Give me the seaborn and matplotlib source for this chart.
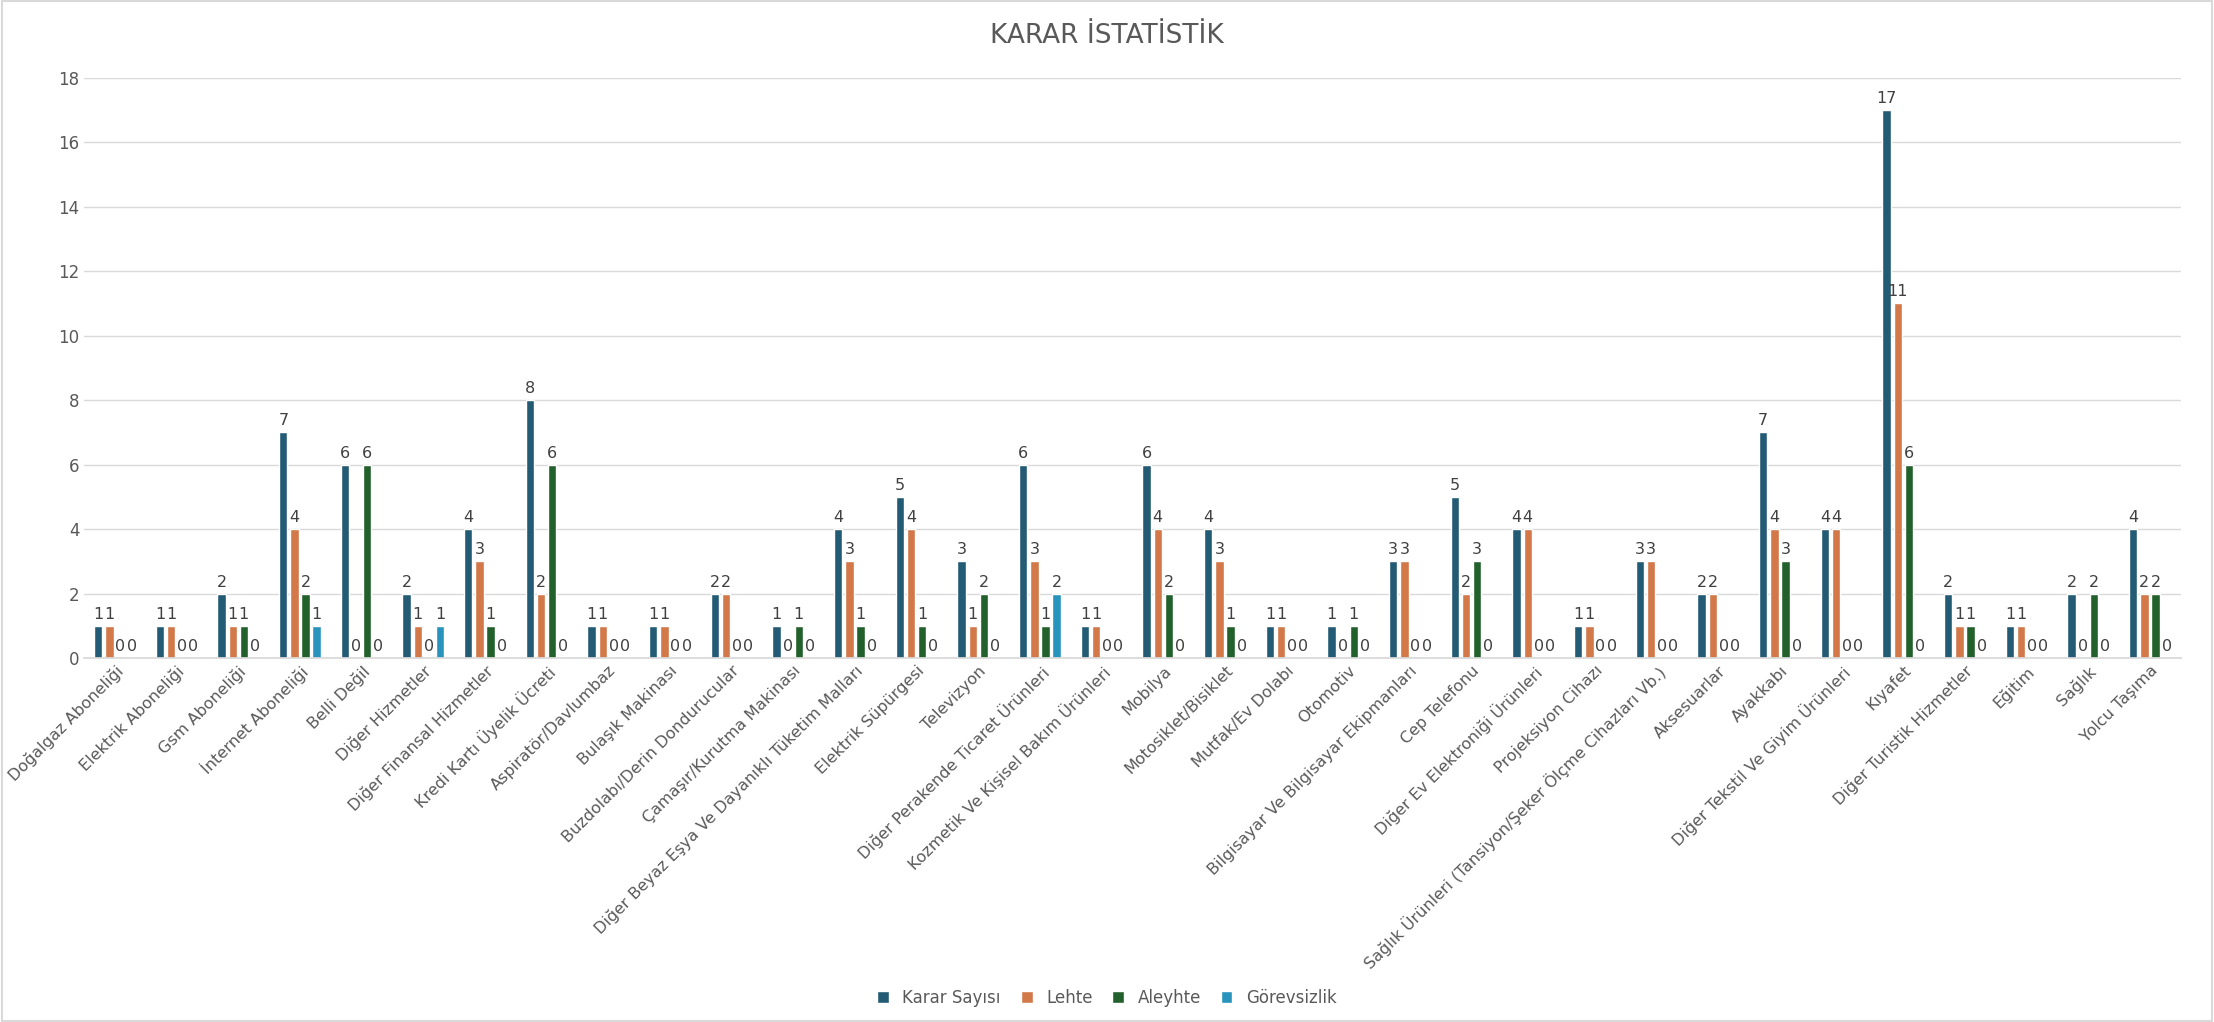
import matplotlib
matplotlib.use("Agg")
import matplotlib.pyplot as plt
import seaborn as sns
import pandas as pd

categories = [
    "Doğalgaz Aboneliği", "Elektrik Aboneliği", "Gsm Aboneliği", "İnternet Aboneliği",
    "Belli Değil", "Diğer Hizmetler", "Diğer Finansal Hizmetler", "Kredi Kartı Üyelik Ücreti",
    "Aspiratör/Davlumbaz", "Bulaşık Makinası", "Buzdolabı/Derin Dondurucular",
    "Çamaşır/Kurutma Makinası", "Diğer Beyaz Eşya Ve Dayanıklı Tüketim Malları",
    "Elektrik Süpürgesi", "Televizyon", "Diğer Perakende Ticaret Ürünleri",
    "Kozmetik Ve Kişisel Bakım Ürünleri", "Mobilya", "Motosiklet/Bisiklet",
    "Mutfak/Ev Dolabı", "Otomotiv", "Bilgisayar Ve Bilgisayar Ekipmanları",
    "Cep Telefonu", "Diğer Ev Elektroniği Ürünleri", "Projeksiyon Cihazı",
    "Sağlık Ürünleri (Tansiyon/Şeker Ölçme Cihazları Vb.)", "Aksesuarlar", "Ayakkabı",
    "Diğer Tekstil Ve Giyim Ürünleri", "Kıyafet", "Diğer Turistik Hizmetler",
    "Eğitim", "Sağlık", "Yolcu Taşıma",
]
karar = [1, 1, 2, 7, 6, 2, 4, 8, 1, 1, 2, 1, 4, 5, 3, 6, 1, 6, 4, 1, 1, 3, 5, 4, 1, 3, 2, 7, 4, 17, 2, 1, 2, 4]
lehte = [1, 1, 1, 4, 0, 1, 3, 2, 1, 1, 2, 0, 3, 4, 1, 3, 1, 4, 3, 1, 0, 3, 2, 4, 1, 3, 2, 4, 4, 11, 1, 1, 0, 2]
aleyhte = [0, 0, 1, 2, 6, 0, 1, 6, 0, 0, 0, 1, 1, 1, 2, 1, 0, 2, 1, 0, 1, 0, 3, 0, 0, 0, 0, 3, 0, 6, 1, 0, 2, 2]
gorevsizlik = [0, 0, 0, 1, 0, 1, 0, 0, 0, 0, 0, 0, 0, 0, 0, 2, 0, 0, 0, 0, 0, 0, 0, 0, 0, 0, 0, 0, 0, 0, 0, 0, 0, 0]

series = {"Karar Sayısı": karar, "Lehte": lehte, "Aleyhte": aleyhte, "Görevsizlik": gorevsizlik}
colors = ["#156082", "#E97132", "#196B24", "#0F9ED5"]

rows = []
for name, vals in series.items():
    for c, v in zip(categories, vals):
        rows.append({"Kategori": c, "Seri": name, "Değer": v})
df = pd.DataFrame(rows)

sns.set_theme(style="white")
plt.rcParams["font.family"] = ["DejaVu Sans"]

fig = plt.figure(figsize=(22.14, 10.22), dpi=100)
ax = fig.add_axes([0.038, 0.356, 0.947, 0.568])
sns.barplot(data=df, x="Kategori", y="Değer", hue="Seri", palette=colors,
            width=0.72, gap=0.25, ax=ax, legend=True)

for cont in ax.containers:
    ax.bar_label(cont, fmt="%d", fontsize=11.5, color="#404040", padding=3)

ax.set_ylim(0, 18)
ax.set_yticks(range(0, 19, 2))
ax.set_xlim(-0.5, len(categories) - 0.5)
ax.yaxis.grid(True, color="#d9d9d9", linewidth=1)
ax.set_axisbelow(True)
for s in ["top", "right", "left"]:
    ax.spines[s].set_visible(False)
ax.spines["bottom"].set_color("#d9d9d9")
ax.set_xlabel("")
ax.set_ylabel("")
ax.tick_params(axis="y", labelsize=12, colors="#595959", length=0)
ax.tick_params(axis="x", labelsize=11.5, colors="#595959", length=0)
plt.setp(ax.get_xticklabels(), rotation=45, ha="right", rotation_mode="anchor")

ax.legend(loc="lower center", bbox_to_anchor=(0.5, -0.0), bbox_transform=fig.transFigure,
          ncol=4, frameon=False, fontsize=12, handlelength=0.7, handleheight=0.7,
          columnspacing=1.2, labelcolor="#595959")

fig.text(0.5, 0.965, "KARAR İSTATİSTİK", ha="center", va="center", fontsize=19, color="#595959")
fig.patches.append(plt.Rectangle((0.001, 0.001), 0.998, 0.998, transform=fig.transFigure,
                                 fill=False, edgecolor="#d9d9d9", linewidth=1.5))

fig.savefig("out.png", dpi=100, facecolor="white")
